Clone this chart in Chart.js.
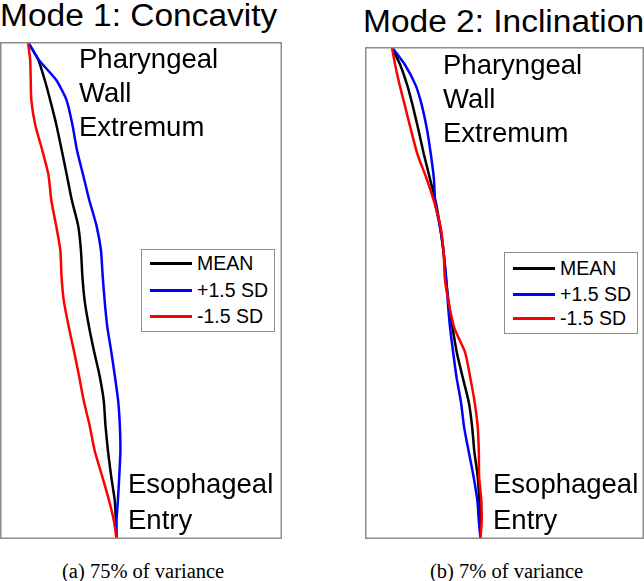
<!DOCTYPE html>
<html>
<head>
<meta charset="utf-8">
<script src="https://cdn.jsdelivr.net/npm/chart.js@4.4.1/dist/chart.umd.min.js"></script>
<style>
  body { margin: 0; background: #fff; }
  #wrap { position: relative; width: 644px; height: 581px; overflow: hidden; font-family: "Liberation Sans", Arial, sans-serif; color: #000; }
  canvas { position: absolute; }
  .txt { position: absolute; white-space: nowrap; line-height: 1; transform-origin: left top; }
  .title { font-size: 31px; transform: scaleX(1.08); }
  .note { font-size: 27.5px; }
  .cap { font-family: "Liberation Serif", "DejaVu Serif", serif; font-size: 20.5px; }
  .legend { position: absolute; border: 1.5px solid #8c8c8c; background: #fff; box-sizing: border-box; }
  .legend .row { position: absolute; left: 8px; width: 120px; height: 20px; font-size: 19.5px; line-height: 20px; white-space: nowrap; }
  .legend .swatch { position: absolute; top: 9px; width: 42px; height: 3px; }
  .legend .lab { position: absolute; left: 47px; top: 0; }
</style>
</head>
<body>
<div id="wrap">
  <canvas id="c1" width="282" height="497" style="left:0px;top:42px"></canvas>
  <canvas id="c2" width="279" height="492" style="left:365px;top:47px"></canvas>

  <div class="txt title" style="left:0px;top:0px">Mode 1: Concavity</div>
  <div class="txt title" style="left:363px;top:6px">Mode 2: Inclination</div>

  <div class="txt note" style="left:79px;top:45px">Pharyngeal</div>
  <div class="txt note" style="left:79px;top:79px">Wall</div>
  <div class="txt note" style="left:79px;top:113px">Extremum</div>
  <div class="txt note" style="left:128px;top:470px">Esophageal</div>
  <div class="txt note" style="left:128px;top:506px">Entry</div>

  <div class="txt note" style="left:443px;top:51px">Pharyngeal</div>
  <div class="txt note" style="left:443px;top:85px">Wall</div>
  <div class="txt note" style="left:443px;top:119px">Extremum</div>
  <div class="txt note" style="left:493px;top:470px">Esophageal</div>
  <div class="txt note" style="left:493px;top:506px">Entry</div>

  <div id="leg1" class="legend" style="left:141px;top:249px;width:134px;height:83px"></div>
  <div id="leg2" class="legend" style="left:504px;top:252px;width:134px;height:82px"></div>

  <div class="txt cap" style="left:62px;top:561px">(a) 75% of variance</div>
  <div class="txt cap" style="left:430px;top:561px">(b) 7% of variance</div>
</div>

<script>
// position along the contour, 0 = pharyngeal wall extremum, 100 = esophageal entry
var arcPos = [0, 3.6, 7.7, 11.7, 16.7, 21.8, 26.8, 31.9, 36.9, 41.9, 47.0,
              52.0, 57.1, 62.1, 67.1, 72.2, 77.2, 82.3, 87.3, 92.3, 96.4, 100];

var seriesLabels = ['MEAN', '+1.5 SD', '-1.5 SD'];
var seriesColors = ['#000000', '#0000ff', '#ff0000'];

// horizontal position (% of panel width)
var mode1Mean  = [9.9, 13.6, 15.9, 17.8, 20.0, 21.9, 23.7, 25.5, 27.7, 28.7, 29.2,
                  30.0, 31.5, 33.3, 35.3, 36.8, 37.4, 38.3, 39.4, 40.7, 41.1, 41.3];
var mode1Plus  = [9.9, 13.8, 20.0, 23.6, 25.7, 27.3, 29.5, 31.7, 34.2, 35.8, 36.4,
                  37.1, 38.0, 39.4, 40.7, 41.9, 42.5, 42.7, 42.3, 41.8, 41.3, 41.3];
var mode1Minus = [9.9, 10.7, 10.9, 11.1, 12.5, 15.0, 17.2, 18.2, 19.9, 21.4, 21.8,
                  22.6, 24.3, 26.2, 28.0, 29.7, 31.8, 33.6, 36.2, 38.7, 40.4, 41.3];

var mode2Mean  = [9.6, 12.6, 15.1, 17.0, 19.1, 21.1, 23.3, 25.5, 27.0, 28.2, 29.0,
                  30.0, 31.4, 32.9, 35.0, 37.2, 38.4, 39.2, 40.4, 41.0, 41.4, 41.4];
var mode2Plus  = [9.6, 14.3, 18.1, 20.3, 22.2, 23.6, 24.7, 25.2, 27.0, 28.2, 29.1,
                  29.7, 30.5, 31.6, 32.8, 34.4, 35.5, 37.2, 38.9, 40.3, 40.8, 41.4];
var mode2Minus = [9.6, 10.8, 12.4, 14.2, 16.4, 18.8, 22.1, 25.0, 27.2, 28.2, 28.6,
                  30.0, 32.0, 35.9, 37.7, 39.3, 40.4, 40.8, 40.9, 41.7, 41.8, 41.4];

function toPoints(xs) {
  var pts = [];
  for (var i = 0; i < xs.length; i++) {
    pts.push({x: xs[i], y: arcPos[i]});
  }
  return pts;
}

var framePlugin = {
  id: 'frame',
  afterDraw: function(chart) {
    var a = chart.chartArea, ctx = chart.ctx;
    ctx.save();
    ctx.strokeStyle = '#8c8c8c';
    ctx.lineWidth = 1.5;
    ctx.strokeRect(a.left + 0.75, a.top + 0.75, a.right - a.left - 1.5, a.bottom - a.top - 1.5);
    ctx.restore();
  }
};

function makeChart(id, mean, plus, minus) {
  var all = [mean, plus, minus];
  var datasets = [];
  for (var i = 0; i < 3; i++) {
    datasets.push({
      label: seriesLabels[i],
      data: toPoints(all[i]),
      borderColor: seriesColors[i],
      backgroundColor: seriesColors[i],
      borderWidth: 2.5,
      pointRadius: 0,
      showLine: true,
      tension: 0.2,
      order: 2 - i
    });
  }
  return new Chart(document.getElementById(id), {
    type: 'scatter',
    data: {datasets: datasets},
    options: {
      responsive: false,
      animation: false,
      devicePixelRatio: 1,
      layout: {padding: 0},
      scales: {
        x: {type: 'linear', min: 0, max: 100, display: false},
        y: {type: 'linear', min: 0, max: 100, reverse: true, display: false}
      },
      plugins: {legend: {display: false}, tooltip: {enabled: false}}
    },
    plugins: [framePlugin]
  });
}

function buildLegend(chart, boxId, rowTops) {
  var box = document.getElementById(boxId);
  chart.data.datasets.forEach(function(ds, i) {
    var row = document.createElement('div');
    row.className = 'row';
    row.style.top = rowTops[i] + 'px';
    var sw = document.createElement('span');
    sw.className = 'swatch';
    sw.style.background = ds.borderColor;
    var lab = document.createElement('span');
    lab.className = 'lab';
    lab.textContent = ds.label;
    row.appendChild(sw);
    row.appendChild(lab);
    box.appendChild(row);
  });
}

var chart1 = makeChart('c1', mode1Mean, mode1Plus, mode1Minus);
var chart2 = makeChart('c2', mode2Mean, mode2Plus, mode2Minus);
buildLegend(chart1, 'leg1', [3, 30, 56]);
buildLegend(chart2, 'leg2', [5, 31, 55]);
</script>
</body>
</html>
